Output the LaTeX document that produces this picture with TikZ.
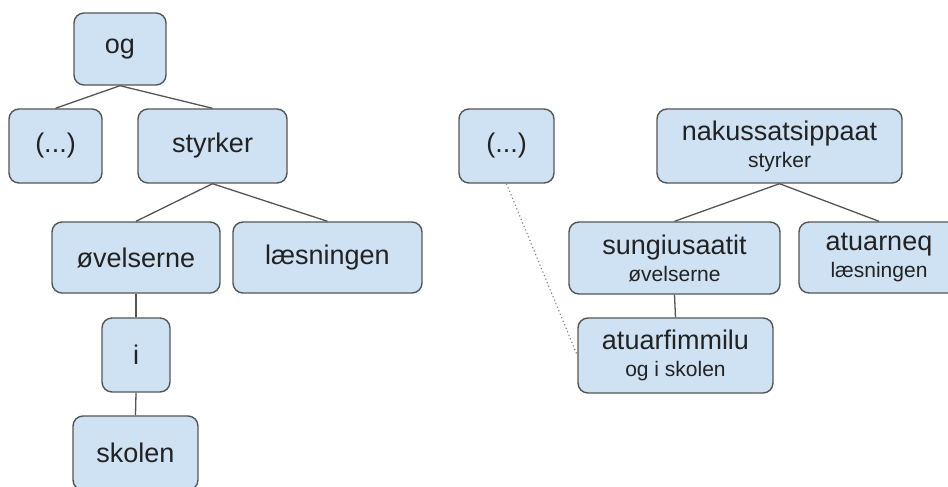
\documentclass[tikz,border=0pt]{standalone}
\usepackage{fontspec}
\setmainfont{Liberation Sans}
\definecolor{boxfill}{HTML}{CFE2F3}
\definecolor{boxline}{HTML}{555555}
\definecolor{txt}{HTML}{222222}
\begin{document}
\begin{tikzpicture}[x=1pt,y=-1pt,
  wbox/.style={draw=boxline, fill=boxfill, line width=1.4pt, rounded corners=10pt,
    inner sep=0pt, text=txt, align=center, font=\fontsize{27}{27}\selectfont},
  edge/.style={draw=boxline, line width=1.3pt},
  dotline/.style={draw=gray, line width=1.1pt, dash pattern=on 1.2pt off 2.6pt}]
\useasboundingbox (0,0) rectangle (948,487);
\clip (0,0) rectangle (948,487);
% left tree
\node[wbox, minimum width=92pt, minimum height=72pt] (og) at (120,49) {og};
\node[wbox, minimum width=93pt, minimum height=74pt] (dl) at (55.5,146) {(...)};
\node[wbox, minimum width=149pt, minimum height=74pt] (sty) at (212.5,146) {styrker};
\node[wbox, minimum width=168pt, minimum height=71pt] (ove) at (136,257.5) {øvelserne};
\node[wbox, minimum width=189pt, minimum height=71pt] (las) at (327.5,257.5) {læsningen};
\node[wbox, minimum width=68pt, minimum height=74pt] (i) at (136,355) {i};
\node[wbox, minimum width=125pt, minimum height=74pt] (sko) at (135.5,453) {skolen};
\draw[edge] (og.south) -- (dl.north);
\draw[edge] (og.south) -- (sty.north);
\draw[edge] (sty.south) -- (ove.north);
\draw[edge] (sty.south) -- (las.north);
\draw[edge] (ove.south) -- (i.north);
\draw[edge] (i.south) -- (sko.north);
% right tree
\node[wbox, minimum width=95pt, minimum height=74pt] (dr) at (506.5,146) {(...)};
\node[wbox, minimum width=245pt, minimum height=74pt] (nak) at (779.5,146)
  {nakussatsippaat\\{\fontsize{21}{27}\selectfont styrker}};
\node[wbox, minimum width=211pt, minimum height=72pt] (sun) at (674.5,258)
  {sungiusaatit\\{\fontsize{21}{27}\selectfont øvelserne}};
\node[wbox, minimum width=160pt, minimum height=71pt] (atn) at (879,257.5)
  {atuarneq\\{\fontsize{21}{27}\selectfont læsningen}};
\node[wbox, minimum width=195pt, minimum height=75pt] (atf) at (675.5,355.5)
  {atuarfimmilu\\{\fontsize{21}{27}\selectfont og i skolen}};
\draw[edge] (nak.south) -- (sun.north);
\draw[edge] (nak.south) -- (atn.north);
\draw[edge] (sun.south) -- (atf.north);
\draw[dotline] (dr.south) -- (atf.west);
\end{tikzpicture}
\end{document}
